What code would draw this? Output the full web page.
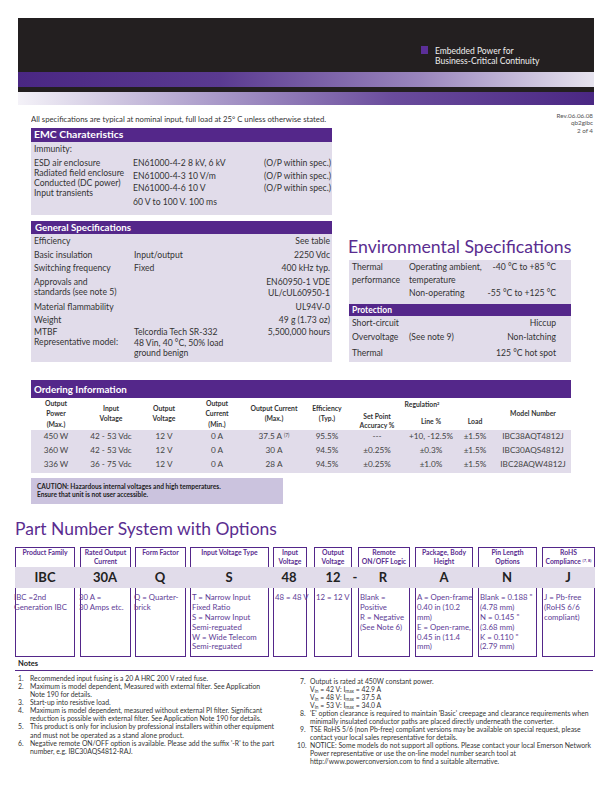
<!DOCTYPE html>
<html>
<head>
<meta charset="utf-8">
<script src="https://cdn.jsdelivr.net/npm/chart.js@4.4.0/dist/chart.umd.min.js"></script>
<style>
body { margin: 0; background: #fff; }
#page { position: relative; width: 612px; height: 792px; overflow: hidden; font-family: Lato, "Noto Sans", sans-serif; color: #333; }
.t { position: absolute; white-space: nowrap; }
.r { position: absolute; }
sup { font-size: 60%; vertical-align: 0.5em; line-height: 0; }
sub { font-size: 70%; vertical-align: -0.2em; line-height: 0; }
</style>
</head>
<body>
<div id="page"></div>
<script>
// ---- texts / values ----
const tagLine = ["Embedded Power for", "Business-Critical Continuity"];
const specNote = "All specifications are typical at nominal input, full load at 25° C unless otherwise stated.";
const revLines = ["Rev.06.06.08", "qb2gibc", "2 of 4"];

const emcLabels = ["Immunity:", "ESD air enclosure", "Radiated field enclosure", "Conducted (DC power)", "Input transients"];
const emcStandards = ["EN61000-4-2 8 kV, 6 kV", "EN61000-4-3 10 V/m", "EN61000-4-6 10 V", "60 V to 100 V. 100 ms"];
const emcResults = ["(O/P within spec.)", "(O/P within spec.)", "(O/P within spec.)"];

const genLabels = ["Efficiency", "Basic insulation", "Switching frequency", "Approvals and", "standards (see note 5)", "Material flammability", "Weight", "MTBF", "Representative model:"];
const genConditions = ["Input/output", "Fixed", "Telcordia Tech SR-332", "48 Vin, 40 °C, 50% load", "ground benign"];
const genValues = ["See table", "2250 Vdc", "400 kHz typ.", "EN60950-1 VDE", "UL/cUL60950-1", "UL94V-0", "49 g (1.73 oz)", "5,500,000 hours"];

const envLabels = ["Thermal", "performance"];
const envConditions = ["Operating ambient,", "temperature", "Non-operating"];
const envValues = ["-40 °C to +85 °C", "-55 °C to +125 °C"];
const protLabels = ["Short-circuit", "Overvoltage", "Thermal"];
const protNotes = ["", "(See note 9)", ""];
const protValues = ["Hiccup", "Non-latching", "125 °C hot spot"];

const orderHeaders = [["Output", "Power", "(Max.)"], ["Input", "Voltage"], ["Output", "Voltage"], ["Output", "Current", "(Min.)"], ["Output Current", "(Max.)"], ["Efficiency", "(Typ.)"], ["Set Point", "Accuracy %"], ["Line %"], ["Load"], ["Model Number"]];
const outputPower = ["450 W", "360 W", "336 W"];
const inputVoltage = ["42 - 53 Vdc", "42 - 53 Vdc", "36 - 75 Vdc"];
const outputVoltage = ["12 V", "12 V", "12 V"];
const currentMin = ["0 A", "0 A", "0 A"];
const currentMax = ["37.5 A <sup>(7)</sup>", "30 A", "28 A"];
const efficiency = ["95.5%", "94.5%", "94.5%"];
const setPoint = ["---", "±0.25%", "±0.25%"];
const lineReg = ["+10, -12.5%", "±0.3%", "±1.0%"];
const loadReg = ["±1.5%", "±1.5%", "±1.5%"];
const modelNumber = ["IBC38AQT4812J", "IBC30AQS4812J", "IBC28AQW4812J"];
const caution = ["CAUTION: Hazardous internal voltages and high temperatures.", "Ensure that unit is not user accessible."];

const pnLabels = [["Product Family"], ["Rated Output", "Current"], ["Form Factor"], ["Input Voltage Type"], ["Input", "Voltage"], ["Output", "Voltage"], ["Remote", "ON/OFF Logic"], ["Package, Body", "Height"], ["Pin Length", "Options"], ["RoHS", "Compliance <sup>(7, 8)</sup>"]];
const pnCodes = ["IBC", "30A", "Q", "S", "48", "12", "R", "A", "N", "J"];
const pnDesc = [
    ["IBC =2nd", "Generation  IBC"],
    ["30 A =", "30 Amps etc."],
    ["Q = Quarter-", "brick"],
    ["T = Narrow Input", "Fixed Ratio", "S = Narrow Input", "Semi-reguated", "W = Wide Telecom", "Semi-reguated"],
    ["48 = 48 V"],
    ["12 = 12 V"],
    ["Blank =", "Positive", "R = Negative", "(See Note 6)"],
    ["A = Open-frame", "0.40 in (10.2", "mm)", "E = Open-rame,", "0.45 in (11.4", "mm)"],
    ["Blank = 0.188 \"", "(4.78 mm)", "N = 0.145 \"", "(3.68 mm)", "K = 0.110 \"", "(2.79 mm)"],
    ["J = Pb-free", "(RoHS 6/6", "compliant)"]
];

const notesLeft = [
    ["1.", "Recommended input fusing is a 20 A HRC 200 V rated fuse."],
    ["2.", "Maximum is model dependent, Measured with external filter.  See Application"],
    ["", "Note 190 for details."],
    ["3.", "Start-up into resistive load."],
    ["4.", "Maximum is model dependent, measured without external PI filter.  Significant"],
    ["", "reduction is possible with external filter.  See Application Note 190 for details."],
    ["5.", "This product is only for inclusion by professional installers within other equipment"],
    ["", "and must not be operated as a stand alone product."],
    ["6.", "Negative remote ON/OFF option is available.  Please add the suffix '-R' to the part"],
    ["", "number, e.g. IBC30AQS4812-RAJ."]
];
const notesRight = [
    ["7.", "Output is rated at 450W constant power."],
    ["", "V<sub>in</sub> = 42 V: I<sub>max</sub> = 42.9 A"],
    ["", "V<sub>in</sub> = 48 V: I<sub>max</sub> = 37.5 A"],
    ["", "V<sub>in</sub> = 53 V: I<sub>max</sub> = 34.0 A"],
    ["8.", "'E' option clearance is required to maintain 'Basic' creepage and clearance requirements when"],
    ["", "minimally insulated conductor paths are placed directly underneath the converter."],
    ["9.", "TSE RoHS 5/6 (non Pb-free) compliant versions may be available on special request, please"],
    ["", "contact your local sales representative for details."],
    ["10.", "NOTICE: Some models do not support all options. Please contact your local Emerson Network"],
    ["", "Power representative or use the on-line model number search tool at"],
    ["", "http://www.powerconversion.com to find a suitable alternative."]
];

// ---- colours ----
const PURPLE = "#54278a";
const LAV = "#e1dcea";
const TITLE = "#5a2d90";

const page = document.getElementById('page');
const fits = [];

function rect(x, y, w, h, style)
{
    const d = document.createElement('div');
    d.className = 'r';
    d.style.left = x + 'px'; d.style.top = y + 'px';
    d.style.width = w + 'px'; d.style.height = h + 'px';
    Object.assign(d.style, style || {});
    page.appendChild(d);
    return d;
}

// y is the vertical centre of the text line
function put(x, y, html, o)
{
    o = o || {};
    const size = o.size || 8;
    const lh = size * 1.2;
    const d = document.createElement('div');
    d.className = 't';
    d.innerHTML = html;
    d.style.fontSize = size + 'px';
    d.style.lineHeight = lh + 'px';
    d.style.top = (y - lh / 2) + 'px';
    d.style.color = o.color || '#333';
    if (o.bold) d.style.fontWeight = 'bold';
    if (o.family) d.style.fontFamily = o.family;
    if (o.align === 'r') { d.style.left = (x - 400) + 'px'; d.style.width = '400px'; d.style.textAlign = 'right'; }
    else if (o.align === 'c') { d.style.left = (x - 200) + 'px'; d.style.width = '400px'; d.style.textAlign = 'center'; }
    else d.style.left = x + 'px';
    page.appendChild(d);
    if (o.w) fits.push([d, o.w]);
    return d;
}

// ---- header ----
rect(18, 18, 576, 87, { background: '#231f20' });
rect(18, 72, 576, 15, { background: 'linear-gradient(to right, #4a2783 0%, #5a3a90 35%, #9a86bd 70%, #e6e3ee 100%)' });
rect(18, 92, 576, 13, { background: 'linear-gradient(to right, #f4f2f8 0%, #a898c8 35%, #6a4c9c 65%, #4a2783 100%)' });
rect(421, 46, 7, 8, { background: '#5b2f98' });
put(435, 51, tagLine[0], { size: 8.5, color: '#eee' });
put(435, 61, tagLine[1], { size: 8.5, color: '#eee', w: 104 });

put(31, 119, specNote, { size: 7.5, w: 295 });
revLines.forEach((s, i) => put(593, [116, 123, 131][i], s, { size: 6.3, align: 'r', color: '#555' }));

// ---- EMC ----
rect(31, 128, 301, 14, { background: PURPLE });
rect(31, 142, 301, 73, { background: LAV });
put(34, 135, "EMC Charateristics", { size: 9.5, bold: true, color: '#fff', w: 89 });
[149, 163, 173, 183, 193].forEach((y, i) => put(34, y, emcLabels[i], { size: 8.6 }));
[163, 176, 188, 202].forEach((y, i) => put(133, y, emcStandards[i], { size: 8.6 }));
[163, 176, 188].forEach((y, i) => put(331, y, emcResults[i], { size: 8.6, align: 'r' }));

// ---- General specifications ----
rect(31, 221, 301, 13, { background: PURPLE });
rect(31, 234, 301, 128, { background: LAV });
put(35, 227.5, "General Specifications", { size: 9.5, bold: true, color: '#fff', w: 96 });
[241, 255, 268, 282, 292, 307, 320, 332, 342].forEach((y, i) => put(34, y, genLabels[i], { size: 8.6 }));
[255, 268, 332, 343, 353].forEach((y, i) => put(134, y, genConditions[i], { size: 8.6 }));
[241, 255, 268, 282, 293, 307, 320, 332].forEach((y, i) => put(330, y, genValues[i], { size: 8.6, align: 'r' }));

// ---- Environmental ----
put(348, 246.5, "Environmental Specifications", { size: 18, color: TITLE, w: 223 });
rect(349, 260, 222, 102, { background: LAV });
rect(349, 304, 222, 12, { background: PURPLE });
[267, 280].forEach((y, i) => put(352, y, envLabels[i], { size: 8.6 }));
[267, 280, 293].forEach((y, i) => put(409, y, envConditions[i], { size: 8.6 }));
[267, 293].forEach((y, i) => put(556, y, envValues[i], { size: 8.6, align: 'r' }));
put(352, 310, "Protection", { size: 8.5, bold: true, color: '#fff' });
[323, 337, 353].forEach((y, i) => {
    put(352, y, protLabels[i], { size: 8.6 });
    if (protNotes[i]) put(409, y, protNotes[i], { size: 8.6 });
    put(556, y, protValues[i], { size: 8.6, align: 'r' });
});

// ---- Ordering information ----
rect(31, 380, 540, 18, { background: PURPLE });
put(34, 389, "Ordering Information", { size: 10, bold: true, color: '#fff', w: 93 });
rect(31, 430, 540, 43, { background: LAV });
const colX = [56, 111, 164, 217, 274, 327, 377, 431, 475, 533];
const headY = [[403, 413, 424], [408, 418], [408, 418], [403, 413, 424], [408, 418], [408, 418], [416, 425], [421], [421], [413]];
orderHeaders.forEach((lines, c) => lines.forEach((s, j) => put(colX[c], headY[c][j], s, { size: 6.8, bold: true, align: 'c' })));
put(422, 404, "Regulation<sup>2</sup>", { size: 6.8, bold: true, align: 'c' });
const orderCols = [outputPower, inputVoltage, outputVoltage, currentMin, currentMax, efficiency, setPoint, lineReg, loadReg, modelNumber];
orderCols.forEach((col, c) => col.forEach((s, r) => put(colX[c], [437, 451, 465][r], s, { size: 8.2, align: 'c', color: '#444' })));
rect(31, 478, 252, 26, { background: '#cbc3de' });
caution.forEach((s, i) => put(37, [487, 495][i], s, { size: 6.6, bold: true, color: '#222' }));

// ---- Part number system ----
put(15, 529, "Part Number System with Options", { size: 18, color: TITLE, w: 262 });
const boxX = [[15, 75], [80, 131], [135, 186], [190, 269], [273, 307], [314, 352], [358, 410], [415, 473], [478, 537], [542, 595]];
const codeX = [45, 105, 160, 229, 289, 333, 383, 444, 507, 568];
boxX.forEach(([a, b], i) => {
    rect(a, 547, b - a, 21, { border: '1.3px solid ' + PURPLE, boxSizing: 'border-box' });
    rect(a, 587, b - a, 70, { border: '1.3px solid ' + PURPLE, boxSizing: 'border-box' });
});
rect(15, 567, 580, 21, { background: LAV });
boxX.forEach(([a, b], i) => {
    const mid = (a + b) / 2;
    const lines = pnLabels[i];
    lines.forEach((s, j) => put(mid, lines.length === 1 ? 552 : [552, 561.5][j], s, { size: 6.8, bold: true, align: 'c', color: TITLE }));
    put(codeX[i], 577.5, pnCodes[i], { size: 13, bold: true, align: 'c', color: '#222' });
    pnDesc[i].forEach((s, j) => put(i < 3 ? a - 1 : a + 2, 598 + j * 9.8, s, { size: 7.8, color: '#5e3d96' }));
});
put(355, 577.5, "-", { size: 13, bold: true, align: 'c', color: '#222' });

// ---- Notes ----
put(18, 663, "Notes", { size: 7.5, bold: true, color: '#222' });
rect(15, 670, 578, 1, { background: PURPLE });
notesLeft.forEach(([n, s], i) => {
    const y = 678 + i * 8.1;
    if (n) put(18, y, n, { size: 6.85 });
    put(30, y, s, { size: 6.85 });
});
notesRight.forEach(([n, s], i) => {
    const y = 681 + i * 8;
    if (n) put(n.length > 2 ? 297 : 300, y, n, { size: 6.85 });
    put(310, y, s, { size: 6.85 });
});

// squeeze the few measured lines to their widths in the reference
fits.forEach(([d, w]) => {
    const k = w / d.scrollWidth;
    d.style.transformOrigin = 'left center';
    d.style.transform = 'scaleX(' + k.toFixed(3) + ')';
});
</script>
</body>
</html>
